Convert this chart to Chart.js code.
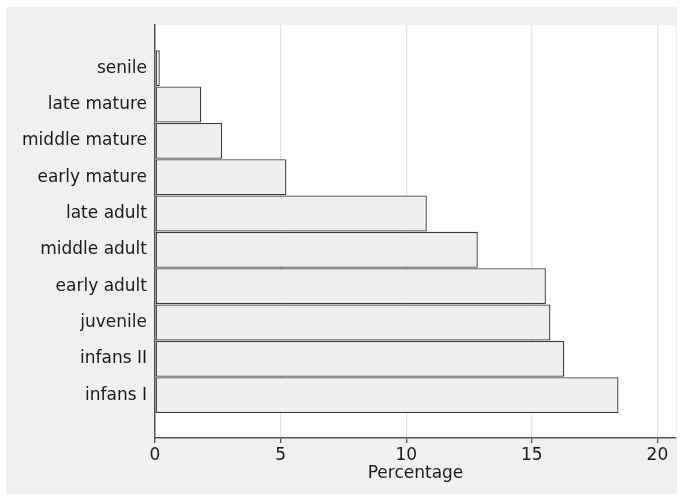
<!DOCTYPE html>
<html>
<head>
<meta charset="utf-8">
<script src="https://cdn.jsdelivr.net/npm/chart.js@4/dist/chart.umd.min.js"></script>
<style>
  html, body { margin: 0; padding: 0; background: #ffffff; }
  #wrap { width: 683px; height: 501px; position: relative; }
</style>
</head>
<body>
<div id="wrap"><canvas id="c" width="683" height="501"></canvas></div>
<script>
// Categories listed bottom to top
const categories = ['infans I', 'infans II', 'juvenile', 'early adult', 'middle adult',
                    'late adult', 'early mature', 'middle mature', 'late mature', 'senile'];
const percentages = [18.45, 16.29, 15.74, 15.56, 12.85, 10.82, 5.23, 2.67, 1.84, 0.19];
const xTickValues = [0, 5, 10, 15, 20];
const xAxisTitle = 'Percentage';

const positions = categories.map((_, i) => i + 1);
const barData = percentages.map((v, i) => ({ x: v, y: positions[i] }));

const bgPlugin = {
  id: 'bgPlugin',
  beforeDraw(chart) {
    const { ctx, chartArea } = chart;
    ctx.save();
    ctx.fillStyle = '#ffffff';
    ctx.fillRect(0, 0, chart.width, chart.height);
    ctx.fillStyle = '#f0f0f0';
    ctx.fillRect(6, 7, 671, 487);
    ctx.fillStyle = '#ffffff';
    ctx.fillRect(chartArea.left, chartArea.top, chartArea.right - chartArea.left, chartArea.bottom - chartArea.top);
    ctx.restore();
  }
};

const font = { family: "'DejaVu Sans'", size: 17 };

new Chart(document.getElementById('c'), {
  type: 'bar',
  data: {
    datasets: [{
      data: barData,
      backgroundColor: '#efefef',
      borderColor: '#3a3a3a',
      borderWidth: 1.3,
      borderSkipped: false,
      barPercentage: 0.99,
      categoryPercentage: 1.0
    }]
  },
  options: {
    indexAxis: 'y',
    responsive: false,
    animation: false,
    layout: { padding: { left: 0, top: 25, right: 7, bottom: 0 } },
    plugins: { legend: { display: false }, tooltip: { enabled: false } },
    scales: {
      x: {
        type: 'linear',
        position: 'bottom',
        min: 0,
        max: 20.74,
        afterBuildTicks(scale) { scale.ticks = xTickValues.map(v => ({ value: v })); },
        afterFit(scale) { scale.height = 63; },
        grid: {
          display: true,
          color: '#e3e3e3',
          lineWidth: 1.3,
          drawTicks: true,
          tickLength: 5,
          tickColor: '#555555',
          tickWidth: 1.3
        },
        border: { display: true, color: '#555555', width: 1.5 },
        ticks: { color: '#1a1a1a', font: font, padding: 2, maxRotation: 0 },
        title: { display: true, text: xAxisTitle, color: '#1a1a1a', font: font, padding: { top: 0, bottom: 17 } }
      },
      y: {
        type: 'linear',
        position: 'left',
        offset: false,
        min: -0.18,
        max: 11.19,
        afterBuildTicks(scale) { scale.ticks = positions.map(v => ({ value: v })); },
        afterFit(scale) { scale.width = 155; },
        grid: { display: false, drawTicks: false },
        border: { display: true, color: '#555555', width: 1.5 },
        ticks: {
          color: '#1a1a1a',
          font: font,
          padding: 8,
          callback: (v) => categories[positions.indexOf(v)]
        }
      }
    }
  },
  plugins: [bgPlugin]
});
</script>
</body>
</html>
